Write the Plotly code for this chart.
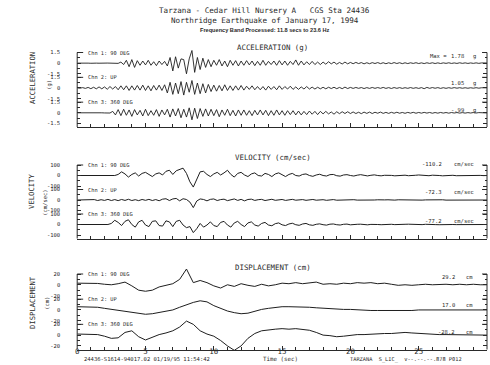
import numpy as np
import plotly.graph_objects as go

W, H = 490, 365

# ---------------- data ----------------
DT_ACC = 0.2    # s between acceleration samples
DT_VEL = 0.25   # s between velocity samples
DT_DIS = 0.5    # s between displacement samples

acc_ch1 = [0, 0.02, -0.02, 0.01, 0, -0.02, 0.02, 0, -0.01, 0.02, -0.02, 0.01, 0, -0.02, 0.03, -0.03,
           0.15, -0.2, 0.4, -0.5, 0.5, -0.6, 0.35, -0.3,
           0.3, -0.25, 0.4, -0.3, 0.2, -0.35, 0.3, -0.2, 0.25,
           -0.4, 0.8, -1.1, 0.9, -0.7, 0.6,
           0.5, -1.5, 0.6, 1.78, -1.3, 0.8,
           -0.9, 0.7, -0.6, 0.5,
           -0.5, 0.4, -0.3, 0.5, -0.4, 0.3, -0.5, 0.4, -0.3, 0.35, -0.4, 0.3,
           -0.3, 0.35, -0.25, 0.3, -0.35, 0.25, -0.3, 0.4, -0.3, 0.25, -0.2, 0.3, -0.3, 0.35, -0.25,
           0.3, -0.3, 0.25, -0.2, 0.45, -0.3, 0.3, -0.25, 0.2, -0.2, 0.25, -0.2, 0.15, -0.2,
           0.15, -0.15, 0.2, -0.1, 0.15, -0.15, 0.1, -0.12, 0.15, -0.1, 0.1,
           -0.08, 0.1, -0.06, 0.08, -0.1, 0.06, -0.08, 0.07, -0.05, 0.08,
           -0.07, 0.06, -0.08, 0.05, -0.06, 0.08, -0.05, 0.06, -0.07, 0.05,
           -0.06, 0.05, -0.04, 0.06, -0.05, 0.04, -0.06, 0.05, -0.04, 0.05,
           -0.05, 0.04, -0.05, 0.04, -0.03, 0.05, -0.04, 0.03, -0.04, 0.05,
           -0.03, 0.04, -0.04, 0.03, -0.03, 0.04, -0.03, 0.03, -0.02, 0.02]

acc_ch2 = [0.02, -0.03, 0.05, -0.06, 0.08, -0.1, 0.1, -0.12, 0.15, -0.12, 0.15, -0.18, 0.2, -0.15, 0.2, -0.25,
           0.3, -0.25, 0.3, -0.35, 0.3, -0.3, 0.35, -0.3, 0.4, -0.35, 0.3, -0.4, 0.35, -0.3, 0.4, -0.35, 0.45,
           -0.7, 0.8, -0.9, 0.7, -0.8, 0.9, -1.0, 0.8, -0.6, 1.05, -0.9, 0.7, -0.8, 0.6, -0.7, 0.5,
           -0.5, 0.4, -0.45, 0.35, -0.4, 0.45, -0.35, 0.3, -0.35, 0.3, -0.3, 0.35,
           -0.3, 0.25, -0.2, 0.3, -0.25, 0.2, -0.25, 0.2, -0.3, 0.25, -0.2, 0.2, -0.25, 0.3, -0.2,
           0.2, -0.15, 0.25, -0.2, 0.15, -0.2, 0.15, -0.15, 0.2, -0.15, 0.12, -0.15, 0.1, -0.12,
           0.1, -0.12, 0.1, -0.08, 0.1, -0.1, 0.08, -0.1, 0.12, -0.08, 0.08,
           -0.06, 0.07, -0.05, 0.06, -0.08, 0.05, -0.06, 0.07, -0.05, 0.06,
           -0.05, 0.08, -0.06, 0.05, -0.07, 0.06, -0.05, 0.05, -0.06, 0.04,
           -0.05, 0.06, -0.05, 0.04, -0.06, 0.05, -0.1, 0.08, -0.05, 0.06,
           -0.04, 0.05, -0.06, 0.04, -0.05, 0.04, -0.04, 0.05, -0.03, 0.04,
           -0.04, 0.03, -0.04, 0.03, -0.03, 0.04, -0.03, 0.03, -0.02, 0.02]

acc_ch3 = [0, 0.01, -0.01, 0.02, -0.01, 0, 0.02, -0.02, 0.01, 0, -0.02, 0.02, -0.03,
           0.2, -0.3, 0.45, -0.4, 0.5, -0.35, 0.4, -0.5, 0.45, -0.3, 0.35, -0.45, 0.5, -0.4, 0.3, -0.35, 0.45, -0.5, 0.4, -0.3,
           0.5, -0.6, 0.55, -0.45, 0.6, -0.7, 0.5, -0.6, 0.7, -0.99, 0.65, -0.8, 0.6, -0.5, 0.55, -0.45,
           0.5, -0.4, 0.45, -0.55, 0.4, -0.35, 0.5, -0.4, 0.35, -0.45, 0.4, -0.35,
           0.4, -0.35, 0.3, -0.4, 0.35, -0.3, 0.4, -0.3, 0.35, -0.4, 0.3, -0.35, 0.4, -0.3, 0.3,
           -0.35, 0.3, -0.25, 0.3, -0.3, 0.25, -0.3, 0.2, -0.25, 0.25, -0.2, 0.2, -0.25, 0.2,
           -0.15, 0.2, -0.15, 0.12, -0.2, 0.15, -0.12, 0.15, -0.1, 0.15, -0.1,
           0.12, -0.1, 0.08, -0.12, 0.1, -0.08, 0.1, -0.1, 0.08, -0.06,
           0.1, -0.08, 0.06, -0.08, 0.07, -0.06, 0.08, -0.06, 0.05, -0.07,
           0.06, -0.05, 0.07, -0.06, 0.05, -0.05, 0.06, -0.04, 0.05, -0.06,
           0.04, -0.05, 0.05, -0.04, 0.04, -0.05, 0.04, -0.03, 0.04, -0.04,
           0.03, -0.04, 0.03, -0.03, 0.04, -0.03, 0.03, -0.02, 0.02, -0.02]

vel_ch1 = [0, 0, 1, 0, -1, 0, 1, 0, -1, 0, 1, 0,
           10, 35, 15, -15, 10, 25, -5, 20, 30, 10, -10, 15, 25,
           5, 40, 50, 10, 45, 55, 70, 20, -60, -110.2, -40, 35,
           40, 10, -10, 15, 30, 5, 25, 50, 10, -15, 20, 30,
           5, -10, 15, 25, 0, -5, 20, 10, -10, 15, 25, 5, -10, 10, 20, 0, -5, 10, 15, 0, -8, 5, 12, 0,
           -5, 8, 10, -2, -6, 5, 8, 0, -5, 3, 8, 2, -4, 2, 6, 0,
           -3, 2, 5, 1, -3, 0, 4, 3, -2, -3, 2, 5, 2, -3, -2, 3,
           4, 0, -3, 1, 4, 2, -2, -1, 3, 2, -2, -1, 2, 1, -1, 0]

vel_ch2 = [0, 1, -2, 3, -3, 4, -5, 3, -4, 6, -5, 4,
           -6, 5, -4, 7, -5, 3, -6, 5, -3, 6, -5, 4, -7,
           8, 12, -5, 10, 15, -8, 12, 5, -20, -72.3, -10, 10,
           5, -8, 6, 10, -5, 4, 8, -6, 5, 10, -4, 6,
           -8, 5, 8, -4, 3, 6, -5, 4, 7, -3, 2, 5, -4, 3, 6, -2, 1, 4, -3, 2, 5, -2, 0, 3,
           -3, 2, 4, -2, 0, 3, -2, 1, 3, -1, -2, 2, 3, -1, 0, 2,
           -2, 1, 2, -1, -1, 2, 1, -2, 0, 2, 1, -1, -1, 1, 2, 0,
           -2, 1, 2, -1, -1, 1, 1, -1, 0, 1, 0, -1, 0, 1, 0, 0]

vel_ch3 = [0, 0, 1, 0, -1, 0, 1, 0, -1, 0,
           10, 40, 20, -10, 30, 45, 0, -25, 25, 40, -5, -20, 30, 35, -10,
           -15, 35, 25, -20, 30, 40, -5, -30, -20, -77.2, -40, 10,
           -25, -5, 25, -10, -20, 20, 30, -5, -25, 15, 30, 0,
           -20, 15, 25, -5, -15, 10, 20, -5, -12, 8, 15, -3, -10, 5, 12, -2, -8, 5, 10, -3, -8, 2, 6, -2,
           -6, 3, 5, -2, -5, 2, 4, -3, -4, 2, 3, -2, -3, 1, 3, 0,
           -2, 1, 3, 2, -1, -2, 0, 2, 3, 1, -2, -3, -1, 2, 3, 1,
           -1, -2, 0, 2, 2, 0, -1, -1, 1, 2, 1, -1, -1, 0, 1, 0]

dis_ch1 = [3, 3, 3, 2.5, 1, 0, 2, 5, -2, -10, -12, -10, -4, -1, 2, 10, 29.2, 4, 8, 4,
           -2, -6, 0, -3, 2, -1, -3, 1, -2, 0, 3, 2, 4, 2, 3, 5, 1, 2, 1, 3,
           2, 4, 3, 4, 2, 3, 1, -1, 0, -1, 0, 1, 0, 1, 1, 0, 1, 0, 1, 0, 0]

dis_ch2 = [6, 6, 6, 5, 3, 1, -1, -3, -5, -7, -8, -7, -5, -3, 0, 5, 10, 14, 17, 15,
           8, 3, -2, -5, -7, -6, -2, 1, 3, 5, 6, 6, 6, 5, 5, 4, 3, 3, 2, 1,
           1, 0, 0, -1, -1, -1, -2, -1, -1, -1, 0, 0, 0, 0, 0, 0, 0, 0, 0, 0, 0]

dis_ch3 = [2, 2, 2, 1, -2, -6, -5, 5, 8, -3, -9, -4, 1, 4, 8, 15, 26, 20, 8, 2,
           -2, -10, -20, -28.2, -20, -6, 3, 8, 10, 11, 12, 11, 12, 10, 9, 5, 0, -1, -3, -2,
           0, 1, 1, 2, 2, 3, 3, 4, 5, 4, 3, 2, 2, 1, 1, 1, 0, 0, 0, 0, 0]

channel_names = ["Chn 1: 90 DEG", "Chn 2: UP", "Chn 3: 360 DEG"]
acc_peaks = ["1.78", "1.05", "-.99"]
vel_peaks = ["-110.2", "-72.3", "-77.2"]
dis_peaks = ["29.2", "17.0", "-28.2"]
x_ticks = [0, 5, 10, 15, 20, 25, 30]

# ---------------- layout geometry (pixels) ----------------
X0, X1 = 75.5, 487.0
INK = "#2a2a2a"
MONO = "DejaVu Sans Mono"


def py(y):
    return 1 - y / H


def pxx(x):
    return x / W


panels = [
    dict(top=52.5, bot=127.0, lo=-2.0, hi=1.5, major=[-1.5, 0, 1.5], mlab=["-1.5", "0", "1.5"],
         minor=[-0.75, 0.75], series=[acc_ch1, acc_ch2, acc_ch3], dt=DT_ACC,
         title="ACCELERATION (g)", ty=47, ytitle="ACCELERATION", yty=78, unit="(g)", ux=47, uy=85,
         peaks=acc_peaks, pky=[56, 83.3, 110], pkr=466, punit="g", pux=471, lw=0.9),
    dict(top=165.0, bot=238.5, lo=-133.3, hi=100, major=[-100, 0, 100], mlab=["-100", "0", "100"],
         minor=[-50, 50], series=[vel_ch1, vel_ch2, vel_ch3], dt=DT_VEL,
         title="VELOCITY (cm/sec)", ty=157, ytitle="VELOCITY", yty=191, unit="(cm/sec)", ux=43, uy=202,
         peaks=vel_peaks, pky=[164, 192, 221], pkr=444, punit="cm/sec", pux=452, lw=1.0),
    dict(top=274.0, bot=349.5, lo=-26.67, hi=20, major=[-20, 0, 20], mlab=["-20", "0", "20"],
         minor=[-10, 10], series=[dis_ch1, dis_ch2, dis_ch3], dt=DT_DIS,
         title="DISPLACEMENT (cm)", ty=267, ytitle="DISPLACEMENT", yty=302, unit="(cm)", ux=45, uy=303,
         peaks=dis_peaks, pky=[277, 305, 332], pkr=457, punit="cm", pux=464, lw=1.0),
]

fig = go.Figure()
layout = dict(width=W, height=H, margin=dict(l=0, r=0, t=0, b=0), paper_bgcolor="white",
              plot_bgcolor="rgba(0,0,0,0)", showlegend=False)
shapes, annotations = [], []

E = 10.0  # extra pixels so traces may spill past their band
k = 0
for pi, p in enumerate(panels):
    h = (p["bot"] - p["top"]) / 3.0
    upp = (p["hi"] - p["lo"]) / h
    for c in range(3):
        k += 1
        T = p["top"] + c * h
        B = T + h
        xa = "xaxis" if k == 1 else f"xaxis{k}"
        ya = "yaxis" if k == 1 else f"yaxis{k}"
        xr = "x" if k == 1 else f"x{k}"
        yr = "y" if k == 1 else f"y{k}"
        vals = p["series"][c]
        t = np.arange(len(vals)) * p["dt"]
        fig.add_trace(go.Scatter(x=t, y=vals, mode="lines", xaxis=xr, yaxis=yr,
                                 line=dict(color="#1e1e1e", width=p["lw"]), hoverinfo="skip"))
        bottom = (c == 2)
        xcfg = dict(domain=[pxx(X0), pxx(X1)], range=[0, 30], showgrid=False, zeroline=False,
                    anchor=yr, fixedrange=True)
        if bottom:
            xcfg.update(anchor="free", position=py(B), showline=True, linecolor=INK, linewidth=1,
                        tickmode="array", tickvals=x_ticks, ticks="inside", ticklen=4, tickcolor=INK,
                        minor=dict(dtick=1, ticks="inside", ticklen=3, tickcolor=INK),
                        showticklabels=(pi == 2), ticktext=[str(v) for v in x_ticks],
                        tickfont=dict(family=MONO, size=7.5, color=INK), ticklabelstandoff=-6)
        else:
            xcfg.update(visible=False)
        layout[xa] = xcfg
        layout[ya] = dict(domain=[py(B + E), py(T - E)], range=[p["lo"] - E * upp, p["hi"] + E * upp],
                          anchor=xr, showgrid=False, zeroline=False, showline=False,
                          tickmode="array", tickvals=p["major"], ticktext=p["mlab"],
                          ticks="inside", ticklen=4, tickcolor=INK, mirror="ticks",
                          minor=dict(tickvals=p["minor"], ticks="inside", ticklen=2.5, tickcolor=INK),
                          tickfont=dict(family=MONO, size=5.5, color=INK), ticklabelstandoff=16,
                          fixedrange=True)
        # bracket at channel top
        shapes.append(dict(type="line", xref="paper", yref="paper", x0=pxx(X0), x1=pxx(X0 + 6),
                           y0=py(T), y1=py(T), line=dict(color=INK, width=1)))
        shapes.append(dict(type="line", xref="paper", yref="paper", x0=pxx(X1 - 5), x1=pxx(X1),
                           y0=py(T), y1=py(T), line=dict(color=INK, width=1)))
        annotations.append(dict(text=channel_names[c], x=pxx(84), y=py(T), xref="paper", yref="paper",
                                xanchor="left", yanchor="middle", showarrow=False,
                                font=dict(family=MONO, size=5.3, color=INK)))
        annotations.append(dict(text=p["peaks"][c], x=pxx(p["pkr"]), y=py(p["pky"][c]), xref="paper",
                                yref="paper", xanchor="right", yanchor="middle", showarrow=False,
                                font=dict(family=MONO, size=5.5, color=INK)))
        annotations.append(dict(text=p["punit"], x=pxx(p["pux"]), y=py(p["pky"][c]), xref="paper",
                                yref="paper", xanchor="left", yanchor="middle", showarrow=False,
                                font=dict(family=MONO, size=5.5, color=INK)))
    # panel verticals
    for xx in (X0, X1):
        shapes.append(dict(type="line", xref="paper", yref="paper", x0=pxx(xx), x1=pxx(xx),
                           y0=py(p["bot"]), y1=py(p["top"]), line=dict(color=INK, width=1)))
    annotations.append(dict(text=p["title"], x=pxx(272), y=py(p["ty"]), xref="paper", yref="paper",
                            xanchor="center", yanchor="middle", showarrow=False,
                            font=dict(family=MONO, size=7.4, color=INK)))
    annotations.append(dict(text=p["ytitle"], x=pxx(30), y=py(p["yty"]), xref="paper", yref="paper",
                            xanchor="center", yanchor="middle", showarrow=False, textangle=-90,
                            font=dict(family=MONO, size=7.2, color=INK)))
    annotations.append(dict(text=p["unit"], x=pxx(p["ux"]), y=py(p["uy"]), xref="paper", yref="paper",
                            xanchor="center", yanchor="middle", showarrow=False, textangle=-90,
                            font=dict(family=MONO, size=5.5, color=INK)))

annotations.append(dict(text="Max =", x=pxx(428), y=py(56), xref="paper", yref="paper", xanchor="left",
                        yanchor="middle", showarrow=False, font=dict(family=MONO, size=5.5, color=INK)))

title_lines = [
    ("Tarzana - Cedar Hill Nursery A   CGS Sta 24436", 11, MONO, 7.6),
    ("Northridge Earthquake of January 17, 1994", 20.5, MONO, 7.6),
    ("<b>Frequency Band Processed: 11.8 secs to 23.6 Hz</b>", 29.5, "Liberation Sans", 5.6),
]
for txt, yy, fam, sz in title_lines:
    annotations.append(dict(text=txt, x=pxx(264), y=py(yy), xref="paper", yref="paper", xanchor="center",
                            yanchor="middle", showarrow=False, font=dict(family=fam, size=sz, color=INK)))

footer = [
    ("24436-S1614-94017.02 01/19/95 11:54:42", 80, 5.5),
    ("Time (sec)", 260, 5.8),
    ("TARZANA  S_LIC_  v--.--.--.878 P012", 347, 5.3),
]
for txt, xx, sz in footer:
    annotations.append(dict(text=txt, x=pxx(xx), y=py(359), xref="paper", yref="paper", xanchor="left",
                            yanchor="middle", showarrow=False, font=dict(family=MONO, size=sz, color=INK)))

layout["shapes"] = shapes
layout["annotations"] = annotations
fig.update_layout(**layout)
fig.write_html("out.html", config={"displayModeBar": False},
               post_script="document.body.style.margin='0';document.body.style.overflow='hidden';")
